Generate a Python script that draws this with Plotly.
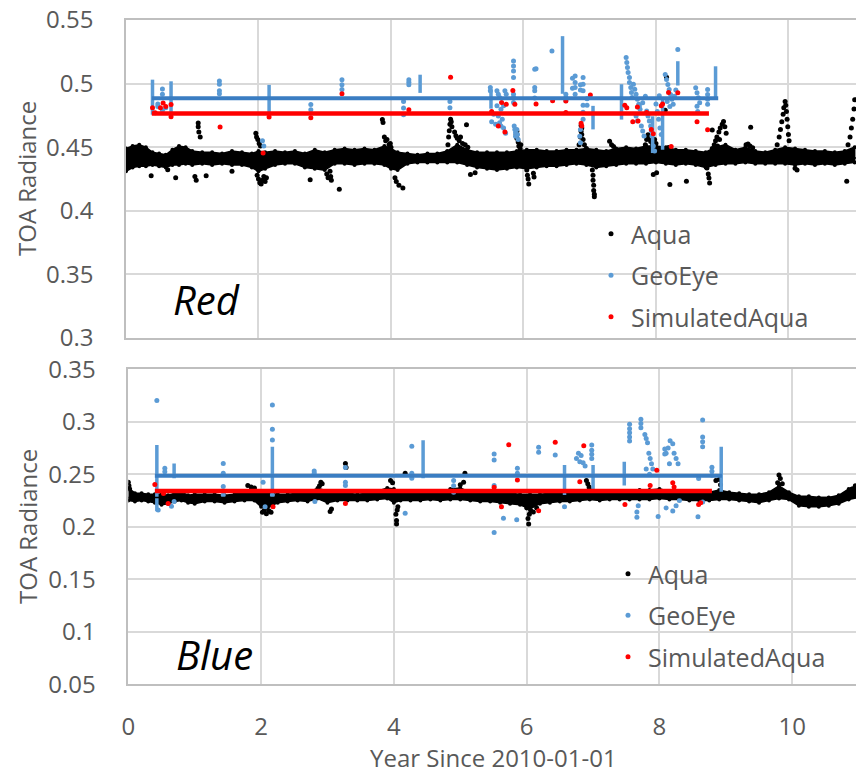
import plotly.graph_objects as go

# ---------------- TOP PANEL (Red band) ----------------
red_band_x = [0.0, 0.1, 0.2, 0.3, 0.4, 0.5, 0.6, 0.7, 0.8, 0.9, 1.0, 1.15, 1.3, 1.45, 1.6, 1.75, 1.9, 2.0, 2.1,
              2.25, 2.4, 2.55, 2.7, 2.85, 3.0, 3.15, 3.3, 3.45, 3.6, 3.75, 3.9, 4.0, 4.1, 4.25, 4.4, 4.55, 4.7,
              4.85, 5.0, 5.15, 5.3, 5.45, 5.6, 5.75, 5.9, 6.05, 6.2, 6.35, 6.5, 6.65, 6.8, 6.95, 7.1, 7.25, 7.4,
              7.55, 7.7, 7.85, 8.0, 8.15, 8.3, 8.45, 8.6, 8.75, 8.9, 9.05, 9.2, 9.35, 9.5, 9.65, 9.8, 9.95, 10.1,
              10.25, 10.4, 10.55, 10.7, 10.85, 11.0]
red_band_hi = [0.449, 0.451, 0.452, 0.450, 0.446, 0.445, 0.444, 0.448, 0.451, 0.450, 0.447, 0.446, 0.446, 0.445,
               0.447, 0.446, 0.445, 0.447, 0.446, 0.447, 0.446, 0.447, 0.445, 0.448, 0.446, 0.448, 0.449, 0.448,
               0.449, 0.448, 0.451, 0.449, 0.446, 0.445, 0.444, 0.445, 0.445, 0.447, 0.452, 0.448, 0.446, 0.446,
               0.446, 0.446, 0.447, 0.448, 0.448, 0.447, 0.447, 0.448, 0.448, 0.449, 0.448, 0.447, 0.449, 0.450,
               0.449, 0.451, 0.451, 0.450, 0.448, 0.448, 0.447, 0.446, 0.450, 0.452, 0.448, 0.450, 0.447, 0.446,
               0.448, 0.450, 0.449, 0.448, 0.447, 0.447, 0.446, 0.447, 0.450]
red_band_lo = [0.431, 0.434, 0.435, 0.435, 0.436, 0.435, 0.434, 0.436, 0.436, 0.437, 0.436, 0.437, 0.436, 0.437,
               0.436, 0.436, 0.434, 0.431, 0.433, 0.436, 0.437, 0.437, 0.434, 0.433, 0.432, 0.437, 0.437, 0.436,
               0.437, 0.437, 0.436, 0.433, 0.432, 0.437, 0.438, 0.438, 0.438, 0.438, 0.438, 0.436, 0.434, 0.433,
               0.432, 0.433, 0.434, 0.433, 0.434, 0.435, 0.435, 0.436, 0.437, 0.436, 0.434, 0.435, 0.436, 0.437,
               0.437, 0.437, 0.438, 0.437, 0.436, 0.437, 0.436, 0.434, 0.436, 0.437, 0.437, 0.438, 0.437, 0.437,
               0.437, 0.437, 0.436, 0.437, 0.436, 0.437, 0.436, 0.437, 0.438]

aqua_red_x = [0.38, 0.63, 0.75, 1.04, 1.06, 1.21, 1.6,
              1.09, 1.09, 1.10, 1.12,
              1.96, 1.97, 1.99, 2.01, 2.03,
              1.98, 2.0, 2.02, 2.04, 2.06, 2.08, 2.1, 2.12,
              2.78, 3.03, 3.05, 3.08, 3.09, 3.1, 3.22,
              3.87, 3.88, 3.9, 3.92, 3.94, 3.97, 3.99, 4.0,
              4.06, 4.08, 4.12, 4.18,
              4.85, 4.86, 4.87, 4.88, 4.89, 4.9, 4.91, 4.92,
              4.96, 4.98, 5.0, 5.03, 5.05, 5.08, 5.12, 5.14, 5.16, 5.2, 5.27,
              5.89, 5.9, 5.9, 5.92, 5.93, 5.95, 5.96,
              6.05, 6.06, 6.07, 6.08, 6.15, 6.16,
              6.84, 6.86, 6.87, 6.87, 6.88, 6.88, 6.9, 6.92, 6.95,
              7.04, 7.05, 7.05, 7.06, 7.06, 7.07, 7.07,
              7.3, 7.33, 7.36,
              7.84, 7.86, 7.88, 7.9, 7.92, 7.95, 7.98, 8.0, 8.01, 7.96,
              8.14, 8.16, 8.19, 8.21, 8.46,
              8.77, 8.79, 8.8, 8.81, 8.85,
              8.85, 8.88, 8.9, 8.92, 8.93, 8.95, 8.96, 8.97, 9.0, 9.02, 9.04, 9.06,
              9.36, 9.39, 9.42, 9.43, 9.46,
              9.83, 9.86, 9.88, 9.9, 9.92, 9.93, 9.95, 9.96, 9.97, 9.98, 9.99, 10.0, 10.01,
              10.1, 10.13, 10.88,
              10.9, 10.93, 10.95, 10.97, 10.99, 11.0]
aqua_red_y = [0.4275, 0.4323, 0.426, 0.427, 0.424, 0.4275, 0.431,
              0.469, 0.466, 0.462, 0.458,
              0.461, 0.458, 0.456, 0.453, 0.451,
              0.428, 0.425, 0.422, 0.421, 0.424, 0.427, 0.423, 0.426,
              0.4244, 0.429, 0.426, 0.431, 0.427, 0.424, 0.417,
              0.4717, 0.4695, 0.458, 0.455, 0.456, 0.452, 0.453, 0.450,
              0.426, 0.423, 0.420, 0.418,
              0.446, 0.452, 0.458, 0.463, 0.468, 0.472, 0.470, 0.466,
              0.462, 0.459, 0.457, 0.455, 0.458, 0.453, 0.452, 0.4677, 0.450, 0.4285, 0.430,
              0.460, 0.4626, 0.457, 0.454, 0.451, 0.449, 0.452,
              0.432, 0.428, 0.425, 0.421, 0.4295, 0.4265,
              0.452, 0.458, 0.4625, 0.467, 0.465, 0.460, 0.456, 0.452, 0.449,
              0.432, 0.428, 0.424, 0.420, 0.416, 0.413, 0.411,
              0.4546, 0.452, 0.4505,
              0.452, 0.456, 0.4598, 0.457, 0.4545, 0.452, 0.456, 0.453, 0.430, 0.4285,
              0.479, 0.505, 0.4498, 0.4207, 0.4233,
              0.4336, 0.429, 0.4257, 0.4218, 0.4636,
              0.449, 0.452, 0.455, 0.458, 0.451, 0.462, 0.456, 0.465, 0.468, 0.4703, 0.466, 0.461,
              0.452, 0.4526, 0.451, 0.4656, 0.4495,
              0.452, 0.458, 0.464, 0.470, 0.476, 0.481, 0.486, 0.483, 0.478, 0.472, 0.466, 0.460, 0.455,
              0.4335, 0.432, 0.4233,
              0.452, 0.458, 0.465, 0.472, 0.480, 0.4874]

geo_red_bar_x = [0.40, 0.68, 2.16, 4.44, 5.51, 6.59, 7.05, 7.48, 7.95, 8.1, 8.33, 8.9]
geo_red_bar_lo = [0.4756, 0.4756, 0.4756, 0.4927, 0.4803, 0.4920, 0.4640, 0.4717, 0.4454, 0.4480, 0.4985, 0.4888]
geo_red_bar_hi = [0.5031, 0.5018, 0.4990, 0.5070, 0.4955, 0.5373, 0.4825, 0.4995, 0.4743, 0.4874, 0.5176, 0.5136]

geo_red_x = [0.48, 0.48, 0.55, 0.55, 0.55, 0.6,
             1.41, 1.41, 1.41, 1.41,
             2.06, 2.08, 2.79, 2.79,
             3.26, 3.26, 3.26,
             4.19, 4.19, 4.19, 4.27, 4.27, 4.27, 4.89, 4.89,
             5.5, 5.5, 5.52, 5.55, 5.58,
             5.6, 5.62, 5.64, 5.6, 5.66, 5.62, 5.68, 5.64, 5.66, 5.72, 5.74, 5.7, 5.7, 5.73,
             5.85, 5.85, 5.85, 5.85, 5.85, 5.85, 5.85, 5.86, 5.87, 5.88, 5.88,
             5.9, 5.91, 5.92,
             6.17, 6.19, 6.17, 6.17, 6.17,
             6.43, 6.64, 6.64, 6.64,
             6.74, 6.74, 6.78, 6.78, 6.78, 6.78,
             6.86, 6.86, 6.9, 6.9, 6.9, 6.9, 6.9, 6.9,
             6.86, 6.85, 6.86, 6.96, 6.96,
             7.55, 7.56, 7.57, 7.58, 7.6, 7.6, 7.62, 7.63, 7.64,
             7.66, 7.68, 7.7, 7.72, 7.74, 7.76, 7.7, 7.72, 7.78, 7.8, 7.82, 7.75, 7.8, 7.84,
             7.86, 7.88, 7.9, 7.92, 7.93, 7.94, 7.96, 7.98,
             8.0, 8.02, 8.04, 8.06, 8.08, 8.05,
             8.14, 8.16, 8.18, 8.2, 8.22, 8.24, 8.26, 8.28, 8.3, 8.17, 8.21,
             8.33,
             8.6, 8.62, 8.64, 8.66, 8.62, 8.63,
             8.78, 8.78, 8.78, 8.78]
geo_red_y = [0.484, 0.482, 0.4957, 0.4917, 0.479, 0.481,
             0.502, 0.4995, 0.4944, 0.492,
             0.455, 0.451, 0.4835, 0.4795,
             0.5031, 0.499, 0.4953,
             0.486, 0.4809, 0.4756, 0.5031, 0.5010, 0.499, 0.486, 0.481,
             0.4969, 0.4943, 0.470, 0.476, 0.468,
             0.4943, 0.4917, 0.489, 0.4825, 0.4798, 0.4746, 0.472, 0.4693, 0.4666, 0.4943, 0.4917, 0.4825, 0.465, 0.461,
             0.5178, 0.5139, 0.510, 0.5047, 0.4917, 0.489, 0.4851, 0.4666, 0.464, 0.4613, 0.4587,
             0.464, 0.460, 0.456,
             0.5113, 0.5116, 0.4969, 0.4943, 0.4887,
             0.5257, 0.4917, 0.489, 0.4865,
             0.5042, 0.4963, 0.506, 0.5008, 0.4969, 0.4917,
             0.4990, 0.4950, 0.5047, 0.4995, 0.4943, 0.483, 0.4775, 0.472,
             0.464, 0.4587, 0.4535, 0.488, 0.483,
             0.5205, 0.5165, 0.5126, 0.5087, 0.5047, 0.5008, 0.4969, 0.4930, 0.4890,
             0.4995, 0.4955, 0.4916, 0.4876, 0.4837, 0.4798, 0.4745, 0.4706, 0.4667, 0.4627, 0.4588, 0.4824, 0.4850, 0.4900,
             0.4785, 0.4745, 0.4706, 0.4667, 0.4627, 0.4588, 0.451, 0.4471,
             0.484, 0.478, 0.472, 0.465, 0.460, 0.4905,
             0.5071, 0.5032, 0.4993, 0.4954, 0.4915, 0.4876, 0.4837, 0.4900, 0.4950, 0.4860, 0.4820,
             0.5268,
             0.4967, 0.4928, 0.4889, 0.4850, 0.4821, 0.4780,
             0.4954, 0.4915, 0.4876, 0.4837]

sim_red_x = [0.40, 0.44, 0.52, 0.56, 0.6, 0.68, 0.68, 1.42, 2.07, 2.16, 2.79, 3.26, 4.27, 4.9, 5.52, 5.62, 5.67,
             5.72, 5.74, 5.84, 5.87, 6.19, 6.44, 6.64, 6.64, 6.87, 6.88, 7.01, 7.53, 7.56, 7.65, 7.72, 7.73, 7.86,
             7.93, 7.96, 8.08, 8.1, 8.19, 8.23, 8.33, 8.62, 8.78]
sim_red_y = [0.481, 0.477, 0.481, 0.4848, 0.482, 0.4835, 0.474, 0.4659, 0.4455, 0.4737, 0.4732, 0.4921, 0.4795,
             0.505, 0.478, 0.4666, 0.4851, 0.462, 0.4838, 0.4945, 0.4838, 0.484, 0.4866, 0.4864, 0.4772, 0.4688,
             0.4666, 0.491, 0.483, 0.4811, 0.470, 0.4817, 0.4706, 0.4772, 0.464, 0.4606, 0.4825, 0.484, 0.493,
             0.4505, 0.4929, 0.470, 0.4638]

red_aqua_trend = [0.4415, 0.4415]
red_geo_mean = [0.4884, 0.4884]
red_sim_mean = [0.4764, 0.4764]
red_geo_span = [0.39, 8.94]
red_sim_span = [0.39, 8.80]

# ---------------- BOTTOM PANEL (Blue band) ----------------
blue_band_x = red_band_x
blue_band_hi = [0.237, 0.232, 0.232, 0.231, 0.231, 0.231, 0.230, 0.232, 0.233, 0.230, 0.231, 0.231, 0.231, 0.230,
                0.231, 0.234, 0.236, 0.233, 0.232, 0.231, 0.231, 0.232, 0.232, 0.237, 0.234, 0.232, 0.232, 0.231,
                0.232, 0.234, 0.237, 0.236, 0.233, 0.232, 0.232, 0.233, 0.233, 0.236, 0.237, 0.233, 0.232, 0.232,
                0.233, 0.232, 0.231, 0.231, 0.231, 0.232, 0.232, 0.233, 0.234, 0.236, 0.233, 0.233, 0.234, 0.234,
                0.235, 0.235, 0.236, 0.234, 0.233, 0.233, 0.232, 0.233, 0.235, 0.233, 0.232, 0.231, 0.231, 0.233,
                0.239, 0.233, 0.229, 0.229, 0.228, 0.228, 0.230, 0.236, 0.240]
blue_band_lo = [0.225, 0.224, 0.225, 0.224, 0.223, 0.221, 0.222, 0.224, 0.225, 0.223, 0.222, 0.224, 0.224, 0.223,
                0.224, 0.225, 0.225, 0.219, 0.218, 0.223, 0.224, 0.225, 0.224, 0.227, 0.223, 0.225, 0.225, 0.225,
                0.225, 0.226, 0.227, 0.223, 0.225, 0.225, 0.225, 0.226, 0.225, 0.226, 0.226, 0.225, 0.224, 0.224,
                0.223, 0.222, 0.221, 0.217, 0.222, 0.223, 0.224, 0.224, 0.225, 0.226, 0.225, 0.226, 0.226, 0.226,
                0.226, 0.226, 0.227, 0.226, 0.226, 0.225, 0.225, 0.225, 0.226, 0.226, 0.225, 0.224, 0.223, 0.225,
                0.227, 0.226, 0.220, 0.219, 0.219, 0.220, 0.222, 0.226, 0.228]

aqua_blue_x = [0.0, 0.01, 0.02, 1.8, 1.85, 1.9,
               2.02, 2.05, 2.08, 2.12, 2.15,
               2.88, 2.9, 2.92, 3.04, 3.06, 3.27, 3.28,
               3.95, 3.98, 4.03, 4.04, 4.04, 4.05, 4.06, 4.17,
               5.0, 5.05, 5.07,
               6.0, 6.02, 6.03, 6.04, 6.06, 6.1, 6.15,
               6.9, 6.92, 6.94,
               8.85, 8.9, 8.92,
               9.78, 9.8, 9.82, 9.85,
               10.9, 10.95, 11.0]
aqua_blue_y = [0.2424, 0.239, 0.236, 0.2393, 0.238, 0.237,
               0.2138, 0.216, 0.2125, 0.215, 0.2138,
               0.239, 0.2424, 0.241, 0.2145, 0.217, 0.2603, 0.2565,
               0.244, 0.242, 0.212, 0.2027, 0.206, 0.216, 0.219, 0.251,
               0.240, 0.2424, 0.251,
               0.218, 0.208, 0.2027, 0.212, 0.2155, 0.214, 0.218,
               0.244, 0.241, 0.238,
               0.244, 0.245, 0.240,
               0.242, 0.2493, 0.246, 0.241,
               0.236, 0.239, 0.2393]

geo_blue_bar_x = [0.43, 0.69, 2.17, 4.44, 6.57, 7.0, 7.47, 8.93]
geo_blue_bar_lo = [0.2147, 0.2462, 0.2304, 0.2463, 0.2304, 0.2333, 0.2393, 0.2334]
geo_blue_bar_hi = [0.2779, 0.2604, 0.2763, 0.2824, 0.2589, 0.2589, 0.2620, 0.2763]

geo_blue_x = [0.43, 0.55, 0.55, 0.45, 0.69, 0.65,
              1.43, 1.43, 1.43, 1.43,
              2.03, 2.06, 2.17, 2.17, 2.17, 2.17,
              2.8, 2.8, 2.81,
              3.27, 3.27, 3.27,
              4.17, 4.27, 4.27, 4.27,
              4.9, 4.9, 4.9,
              5.51, 5.51, 5.51, 5.51,
              5.65, 5.85, 5.86, 5.86,
              6.18, 6.18, 6.43, 6.57,
              6.75, 6.78, 6.8, 6.82, 6.85, 6.88,
              6.98, 6.98, 6.98, 6.98,
              7.55, 7.55, 7.55, 7.55, 7.55,
              7.66, 7.66, 7.68,
              7.72, 7.72, 7.72,
              7.78, 7.8, 7.82, 7.84, 7.86, 7.88, 7.9, 7.8, 7.85,
              7.98, 8.08, 8.08,
              8.1, 8.13, 8.16, 8.2, 8.22, 8.25, 8.28, 8.15, 8.3, 8.25, 8.2, 8.1,
              8.65, 8.65, 8.65, 8.65, 8.65,
              8.58, 8.59,
              8.79, 8.79, 8.79]
geo_blue_y = [0.3202, 0.2557, 0.2525, 0.2161, 0.224, 0.2195,
              0.2604, 0.251, 0.2383, 0.2304,
              0.2424, 0.2192, 0.316, 0.2929, 0.2827, 0.2304,
              0.2532, 0.251, 0.224,
              0.2565, 0.2424, 0.2393,
              0.2128, 0.2767, 0.251, 0.2463,
              0.2440, 0.2390, 0.2330,
              0.2693, 0.2636, 0.2393, 0.1946,
              0.2082, 0.2066, 0.2557, 0.251,
              0.2757, 0.271, 0.2684, 0.2192,
              0.2650, 0.2700, 0.2620, 0.2680, 0.2610, 0.2580,
              0.2780, 0.2730, 0.2690, 0.2650,
              0.2976, 0.2935, 0.2895, 0.2855, 0.2817,
              0.2140, 0.2090, 0.2200,
              0.3024, 0.2984, 0.2944,
              0.2880, 0.2840, 0.2800, 0.2700, 0.2650, 0.2600, 0.2550, 0.2550, 0.2500,
              0.2097, 0.2741, 0.2693,
              0.2700, 0.2750, 0.2820, 0.2790, 0.2700, 0.2650, 0.2600, 0.2600, 0.2250, 0.2200, 0.2150, 0.2180,
              0.3017, 0.2856, 0.2810, 0.2763, 0.2235,
              0.2096, 0.2459,
              0.2568, 0.2530, 0.2490]

sim_blue_x = [0.40, 0.53, 0.6, 2.18, 3.27, 5.51, 5.62, 5.73, 5.86, 6.18, 6.43, 6.8, 6.86, 7.48, 7.86, 7.96,
              8.2, 8.22, 8.59, 8.62]
sim_blue_y = [0.2402, 0.2316, 0.2221, 0.2192, 0.2223, 0.2377, 0.219, 0.2782, 0.2446, 0.2152, 0.2805, 0.243,
              0.2773, 0.2213, 0.2393, 0.2538, 0.2420, 0.2380, 0.2213, 0.2230]

blue_aqua_trend = [0.228, 0.228]
blue_geo_mean = [0.2487, 0.2487]
blue_sim_mean = [0.2341, 0.2341]
blue_geo_span = [0.40, 8.94]
blue_sim_span = [0.40, 8.79]

x_full = [0, 11.1]

# ---------------- styles ----------------
FONT = "Open Sans, Noto Sans, sans-serif"
GRAY = "#595959"
C_AQUA = "#000000"
C_GEO = "#5B9BD5"
C_GEO_LINE = "#3A7DC2"
C_SIM = "#FF0000"

W, H = 856, 776


def bar_xy(xs, lo, hi):
    bx, by = [], []
    for x, a, b in zip(xs, lo, hi):
        bx += [x, x, None]
        by += [a, b, None]
    return bx, by


fig = go.Figure()


def add_panel(xa, ya, leg, band_x, band_hi, band_lo, aq_x, aq_y, gbx, gblo, gbhi, g_x, g_y, s_x, s_y,
              trend, gmean, gspan, smean, sspan):
    fig.add_trace(go.Scatter(x=band_x + band_x[::-1], y=band_hi + band_lo[::-1], mode="lines+markers",
                             fill="toself", fillcolor=C_AQUA, line=dict(color=C_AQUA, width=1.5),
                             marker=dict(size=4, color=C_AQUA), xaxis=xa, yaxis=ya, showlegend=False,
                             hoverinfo="skip"))
    fig.add_trace(go.Scatter(x=aq_x, y=aq_y, mode="markers", name="Aqua", marker=dict(size=5, color=C_AQUA),
                             xaxis=xa, yaxis=ya, legend=leg, legendgroup=leg + "a"))
    bx, by = bar_xy(gbx, gblo, gbhi)
    fig.add_trace(go.Scatter(x=bx, y=by, mode="lines", line=dict(color=C_GEO, width=3.5), xaxis=xa, yaxis=ya,
                             showlegend=False, hoverinfo="skip"))
    fig.add_trace(go.Scatter(x=g_x, y=g_y, mode="markers", name="GeoEye", marker=dict(size=5, color=C_GEO),
                             xaxis=xa, yaxis=ya, legend=leg, legendgroup=leg + "g"))
    fig.add_trace(go.Scatter(x=s_x, y=s_y, mode="markers", name="SimulatedAqua",
                             marker=dict(size=5, color=C_SIM), xaxis=xa, yaxis=ya, legend=leg,
                             legendgroup=leg + "s"))
    fig.add_trace(go.Scatter(x=x_full, y=trend, mode="lines", line=dict(color=C_AQUA, width=1.5), xaxis=xa,
                             yaxis=ya, showlegend=False, hoverinfo="skip"))
    fig.add_trace(go.Scatter(x=gspan, y=gmean, mode="lines", line=dict(color=C_GEO_LINE, width=4), xaxis=xa,
                             yaxis=ya, showlegend=False, hoverinfo="skip"))
    fig.add_trace(go.Scatter(x=sspan, y=smean, mode="lines", line=dict(color=C_SIM, width=4.5), xaxis=xa,
                             yaxis=ya, showlegend=False, hoverinfo="skip"))


add_panel("x", "y", "legend", red_band_x, red_band_hi, red_band_lo, aqua_red_x, aqua_red_y,
          geo_red_bar_x, geo_red_bar_lo, geo_red_bar_hi, geo_red_x, geo_red_y, sim_red_x, sim_red_y,
          red_aqua_trend, red_geo_mean, red_geo_span, red_sim_mean, red_sim_span)
add_panel("x2", "y2", "legend2", blue_band_x, blue_band_hi, blue_band_lo, aqua_blue_x, aqua_blue_y,
          geo_blue_bar_x, geo_blue_bar_lo, geo_blue_bar_hi, geo_blue_x, geo_blue_y, sim_blue_x, sim_blue_y,
          blue_aqua_trend, blue_geo_mean, blue_geo_span, blue_sim_mean, blue_sim_span)

x_ticks = [0, 2, 4, 6, 8, 10]
y_ticks_top = [0.3, 0.35, 0.4, 0.45, 0.5, 0.55]
y_ticks_bot = [0.05, 0.1, 0.15, 0.2, 0.25, 0.3, 0.35]

common_x = dict(showgrid=True, gridcolor="#d9d9d9", gridwidth=1.5, zeroline=False, showline=True,
                linecolor="#bfbfbf", linewidth=1.5, mirror=True, tickvals=x_ticks, ticks="", automargin=False,
                tickfont=dict(family=FONT, size=24, color=GRAY))
common_y = dict(showgrid=True, gridcolor="#d9d9d9", gridwidth=1.5, zeroline=False, showline=True,
                linecolor="#bfbfbf", linewidth=1.5, mirror=False, ticks="", automargin=False,
                tickfont=dict(family=FONT, size=24, color=GRAY), ticklabelstandoff=26)

legend_common = dict(font=dict(family=FONT, size=25, color=GRAY), bgcolor="rgba(0,0,0,0)",
                     xanchor="left", yanchor="top", tracegroupgap=6, itemsizing="trace")

fig.update_layout(
    width=W, height=H, margin=dict(l=0, r=0, t=0, b=0, autoexpand=False),
    paper_bgcolor="white", plot_bgcolor="white",
    font=dict(family=FONT, color=GRAY),
    xaxis=dict(common_x, domain=[126 / W, 1], range=[0, 11.02], anchor="y", showticklabels=False),
    yaxis=dict(common_y, domain=[(H - 338) / H, (H - 20) / H], range=[0.3, 0.55], anchor="x",
               tickvals=y_ticks_top),
    xaxis2=dict(common_x, domain=[128.3 / W, 1], range=[0, 10.96], anchor="y2", ticklabelstandoff=20),
    yaxis2=dict(common_y, domain=[(H - 684.3) / H, (H - 369.3) / H], range=[0.05, 0.35], anchor="x2",
                tickvals=y_ticks_bot),
    legend=dict(legend_common, x=591 / W, y=(H - 211) / H),
    legend2=dict(legend_common, x=608 / W, y=(H - 551) / H),
    annotations=[
        dict(text="TOA Radiance", textangle=-90, x=27 / W, y=(H - 179) / H, xref="paper", yref="paper",
             showarrow=False, font=dict(family=FONT, size=24, color=GRAY), xanchor="center", yanchor="middle"),
        dict(text="TOA Radiance", textangle=-90, x=27 / W, y=(H - 527) / H, xref="paper", yref="paper",
             showarrow=False, font=dict(family=FONT, size=24, color=GRAY), xanchor="center", yanchor="middle"),
        dict(text="Year Since 2010-01-01", x=493 / W, y=0, xref="paper", yref="paper",
             showarrow=False, font=dict(family=FONT, size=24, color=GRAY), xanchor="center", yanchor="bottom"),
        dict(text="<i>Red</i>", x=206 / W, y=(H - 300) / H, xref="paper", yref="paper", showarrow=False,
             font=dict(family=FONT, size=40, color="black"), xanchor="center", yanchor="middle"),
        dict(text="<i>Blue</i>", x=214 / W, y=(H - 654) / H, xref="paper", yref="paper", showarrow=False,
             font=dict(family=FONT, size=40, color="black"), xanchor="center", yanchor="middle"),
    ],
)

fig.write_html("out.html", config={"displayModeBar": False},
               post_script="document.body.style.margin='0';document.body.style.overflow='hidden';")
